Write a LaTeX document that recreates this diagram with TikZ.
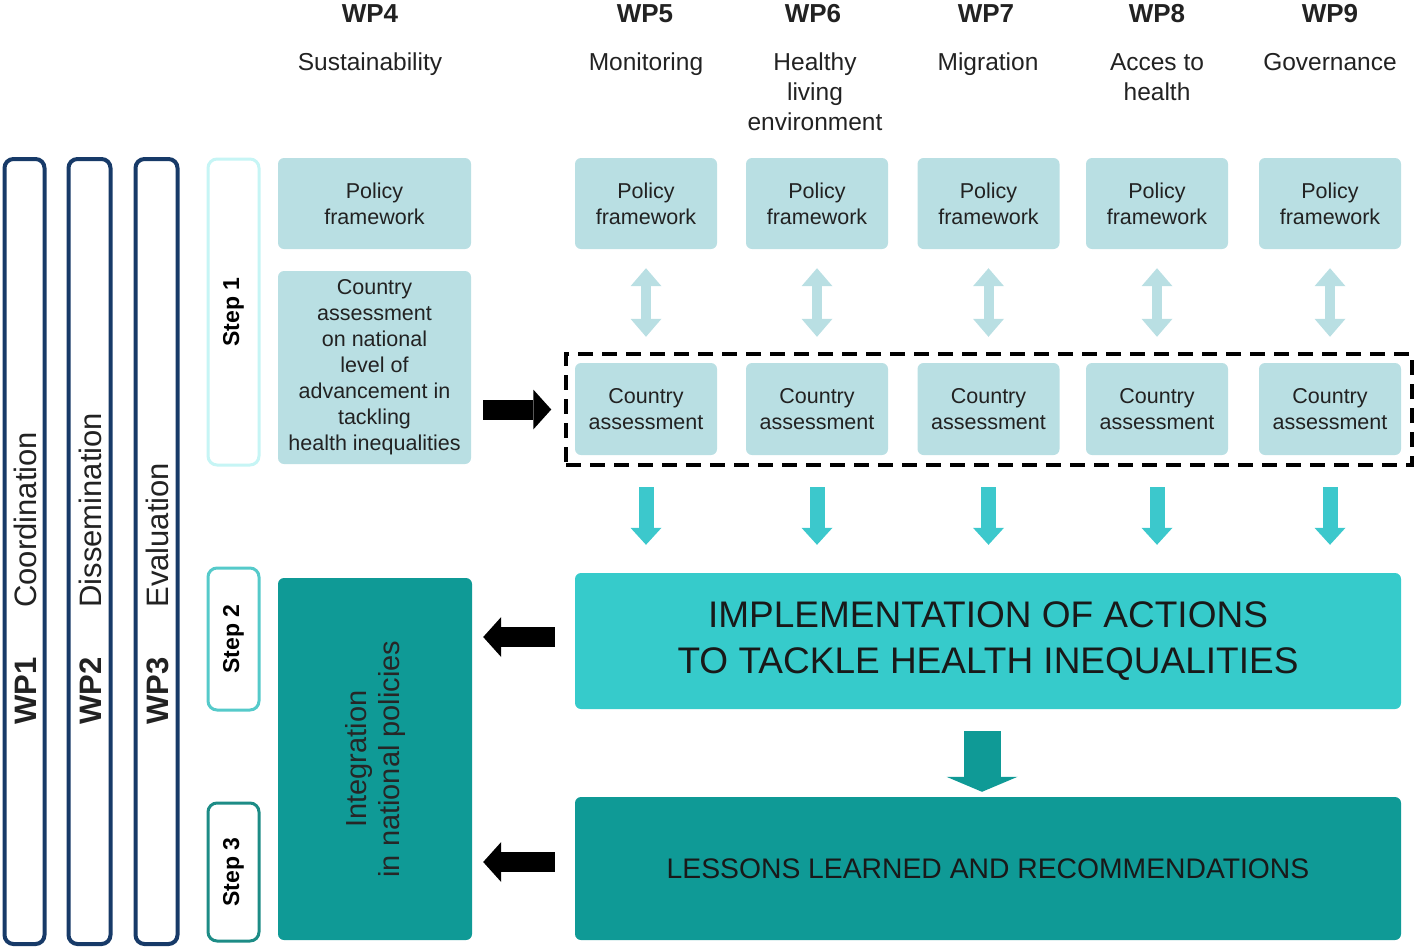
\documentclass[tikz,border=0pt]{standalone}
\usepackage{fontspec}
\setmainfont{Liberation Sans}
\usetikzlibrary{arrows.meta,calc}
\definecolor{navy}{HTML}{173A68}
\definecolor{lightbox}{HTML}{B9DFE3}
\definecolor{turq}{HTML}{36CBCB}
\definecolor{darkteal}{HTML}{0F9A96}
\definecolor{arrowturq}{HTML}{3CC8CC}
\definecolor{stepone}{HTML}{C6F5F5}
\definecolor{steptwo}{HTML}{55CACA}
\definecolor{stepthree}{HTML}{1D8C86}
\definecolor{txt}{HTML}{222222}
\begin{document}
\begin{tikzpicture}[x=1pt,y=-1pt,
  box/.style={rounded corners=6pt, inner sep=0pt, align=center, text=txt,
    font=\fontsize{21.5}{26}\selectfont},
  lbox/.style={box, fill=lightbox},
  wpbar/.style={draw=navy, line width=4pt, fill=white, rounded corners=9pt, minimum width=40pt, minimum height=785pt, inner sep=0pt},
  stepbox/.style={fill=white, line width=3pt, rounded corners=9pt, minimum height=51pt, inner sep=0pt, rotate=90, font=\bfseries\fontsize{23}{26}\selectfont},
  wphead/.style={anchor=base, font=\bfseries\fontsize{26}{30}\selectfont, text=txt},
  subhead/.style={anchor=north, align=center, inner sep=0pt, font=\fontsize{24.5}{30}\selectfont, text=txt},
  sidetext/.style={rotate=90, anchor=west, inner sep=0pt, font=\fontsize{31}{36}\selectfont, text=txt},
  dblarrow/.style={draw=lightbox, line width=10pt, {Triangle[length=18pt,width=31pt,line width=0pt]}-{Triangle[length=18pt,width=31pt,line width=0pt]}, shorten <=19pt, shorten >=26pt},
  turqarrow/.style={draw=arrowturq, line width=15pt, -{Triangle[length=17pt,width=31pt,line width=0pt]}, shorten <=32pt, shorten >=28pt},
  tealarrow/.style={draw=darkteal, line width=37pt, -{Triangle[length=15pt,width=71pt,line width=0pt]}, shorten <=22pt, shorten >=5pt},
  blackarrow/.style={draw=black, line width=20pt, -{Triangle[length=18pt,width=40pt,line width=0pt]}}
]
\useasboundingbox (0,0) rectangle (1416,951);

% WP bars
\node[wpbar] (wp1) at (24.5,551.5) {};
\node[wpbar, minimum width=42pt] (wp2) at (89.5,551.5) {};
\node[wpbar, minimum width=42pt] (wp3) at (156.5,551.5) {};
\node[sidetext] (wp1t) at (25,725) {\textbf{WP1}\hspace{50pt}Coordination};
\node[sidetext] (wp2t) at (90,725) {\textbf{WP2}\hspace{50pt}Dissemination};
\node[sidetext] (wp3t) at (157,725) {\textbf{WP3}\hspace{50pt}Evaluation};

% Step boxes
\node[stepbox, draw=stepone, minimum width=306pt] (s1) at (233.5,312) {Step 1};
\node[stepbox, draw=steptwo, minimum width=142pt] (s2) at (233.5,639) {Step 2};
\node[stepbox, draw=stepthree, minimum width=138pt] (s3) at (233.5,872) {Step 3};

% Headers
\node[wphead] (h4) at (370,22) {WP4};
\node[wphead] (h5) at (645,22) {WP5};
\node[wphead] (h6) at (813,22) {WP6};
\node[wphead] (h7) at (986,22) {WP7};
\node[wphead] (h8) at (1157,22) {WP8};
\node[wphead] (h9) at (1330,22) {WP9};
\node[subhead] (t4) at (370,53) {Sustainability};
\node[subhead] (t5) at (646,53) {Monitoring};
\node[subhead] (t6) at (815,53) {Healthy\\living\\environment};
\node[subhead] (t7) at (988,53) {Migration};
\node[subhead] (t8) at (1157,53) {Acces to\\health};
\node[subhead] (t9) at (1330,53) {Governance};

% WP4 column
\node[lbox, minimum width=193pt, minimum height=91pt] (p4) at (374.5,203.5) {Policy\\framework};
\node[lbox, minimum width=193pt, minimum height=193pt] (cbig) at (374.5,367.5) {Country\\assessment\\on national\\level of\\advancement in\\tackling\\health inequalities};

% dashed group
\node[draw=black, dash pattern=on 15pt off 9pt, line width=3.5pt, minimum width=846pt, minimum height=111pt, inner sep=0pt] (dash) at (989,409.5) {};

% columns
\foreach \n/\x in {5/646,6/817,7/988.5,8/1157,9/1330}{
  \node[lbox, minimum width=142pt, minimum height=91pt] (p\n) at (\x,203.5) {Policy\\framework};
  \node[lbox, minimum width=142pt, minimum height=92pt] (c\n) at (\x,409) {Country\\assessment};
}

% big boxes
\node[box, fill=turq, minimum width=826pt, minimum height=136pt, text=black!90, font=\fontsize{37}{46}\selectfont] (impl) at (988,641) {IMPLEMENTATION OF ACTIONS\\TO TACKLE HEALTH INEQUALITIES};
\node[box, fill=darkteal, minimum width=826pt, minimum height=143pt, text=black!90, font=\fontsize{28.3}{34}\selectfont] (less) at (988,868.5) {LESSONS LEARNED AND RECOMMENDATIONS};
\node[box, fill=darkteal, minimum width=194pt, minimum height=362pt] (integ) at (375,759) {};
\node[rotate=90, align=center, inner sep=0pt, text=black!85, font=\fontsize{29}{33}\selectfont] (integt) at (integ.center) {Integration\\in national policies};

% arrows
\foreach \n in {5,6,7,8,9}{
  \draw[dblarrow] (p\n.south) -- (c\n.north);
  \draw[turqarrow] (c\n.south) -- (c\n.south |- impl.north);
}
\draw[blackarrow, shorten <=12pt, shorten >=13pt] (cbig.east |- dash.west) -- (dash.west);
\draw[blackarrow, shorten <=20pt, shorten >=11pt] ([yshift=4pt]impl.west) -- ([yshift=4pt]integ.east |- impl.west);
\draw[blackarrow, shorten <=20pt, shorten >=11pt] ([yshift=6.5pt]less.west) -- ([yshift=6.5pt]integ.east |- less.west);
\draw[tealarrow] ([xshift=-6pt]impl.south) -- ([xshift=-6pt]less.north);
\end{tikzpicture}
\end{document}
